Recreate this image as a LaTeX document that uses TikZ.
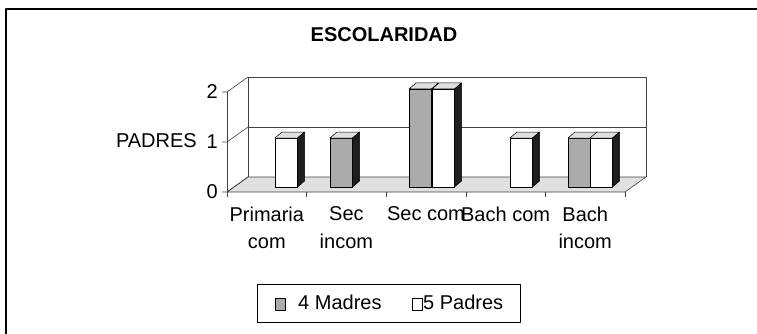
\documentclass[tikz,border=0pt]{standalone}
\usepackage{fontspec}
\setmainfont{Liberation Sans}
\tikzset{
  txt/.style={inner sep=0pt},
  wall/.style={draw=black!75,line width=0.6pt},
  floor/.style={fill=black!12,draw=black!75,line width=0.6pt},
  madres/.style={fill=black!33},
  padres/.style={fill=white},
  barfront/.style={draw=black,line width=0.5pt},
  bartop/.style={fill=black!12,draw=black,line width=0.5pt},
  barside/.style={fill=black!88,draw=black,line width=0.5pt},
  keybox/.style={draw=black,line width=0.6pt,minimum width=10pt,minimum height=12pt,inner sep=0pt},
}
\begin{document}
\begin{tikzpicture}[x={(1pt,0)},y={(0,-1pt)},line join=bevel,font=\fontsize{20}{24}\selectfont]
  \useasboundingbox (0,0) rectangle (757,334);
  % frame
  \draw[line width=1.2pt] (6,334)--(6,9)--(757,9);
  \node[txt,font=\fontsize{20}{24}\selectfont\bfseries] (title) at (384,35) {ESCOLARIDAD};
  % floor and walls
  \coordinate (O) at (227,192) ; \coordinate (FR) at (625,192) ;
  \coordinate (BL) at (248,177) ; \coordinate (BR) at (646,177) ;
  \coordinate (TL) at (248,77) ; \coordinate (TR) at (646,77) ;
  \filldraw[floor] (O)--(FR)--(BR)--(BL)--cycle ;
  \draw[wall] (BL)--(TL)--(TR)--(BR) ;
  \draw[wall] (248,127)--(646,127) ;
  \foreach \v in {0,1,2} {
    \draw[wall] (222,192-50*\v)--(227,192-50*\v)--(248,177-50*\v) ;
    \node[txt,anchor=east] (tick\v) at (218,192-50*\v) {\v} ;
  }
  \draw[wall] (O)--(227,92) ;
  \node[txt,anchor=east] (ylab) at (197,141) {PADRES} ;
  % bars
  \foreach \x/\h/\s in {275/1/padres,330/1/madres,409/2/madres,432/2/padres,510/1/padres,568/1/madres,590/1/padres} {
    \draw[barfront,\s] (\x,187) rectangle (\x+22.5,187-49*\h) ;
    \draw[bartop] (\x,187-49*\h)--++(7,-6)--++(22.5,0)--++(-7,6)--cycle ;
    \draw[barside] (\x+22.5,187)--++(7,-6)--++(0,-49*\h)--++(-7,6)--cycle ;
  }
  % categories
  \foreach \i in {0,...,5} \draw[wall] (227+79.6*\i,192)--++(0,5) ;
  \foreach \t [count=\i] in {Primaria\\com,Sec\\incom,Sec com,Bach com,Bach\\incom}
    \node[txt,anchor=north,align=center,font=\fontsize{20}{27.5}\selectfont] (cat\i) at (227+79.6*\i-39.8,206.5) {\t} ;
  % legend
  \node[draw=black,line width=0.6pt,minimum width=263pt,minimum height=38pt,inner sep=0pt] (legend) at (388.5,303) {} ;
  \node[keybox,madres] (key1) at (280,304) {} ;
  \node[txt,anchor=west] (lab1) at (298,302) {4 Madres} ;
  \node[keybox,padres] (key2) at (417,304) {} ;
  \node[txt,anchor=west] (lab2) at (423,302) {5 Padres} ;
\end{tikzpicture}
\end{document}
